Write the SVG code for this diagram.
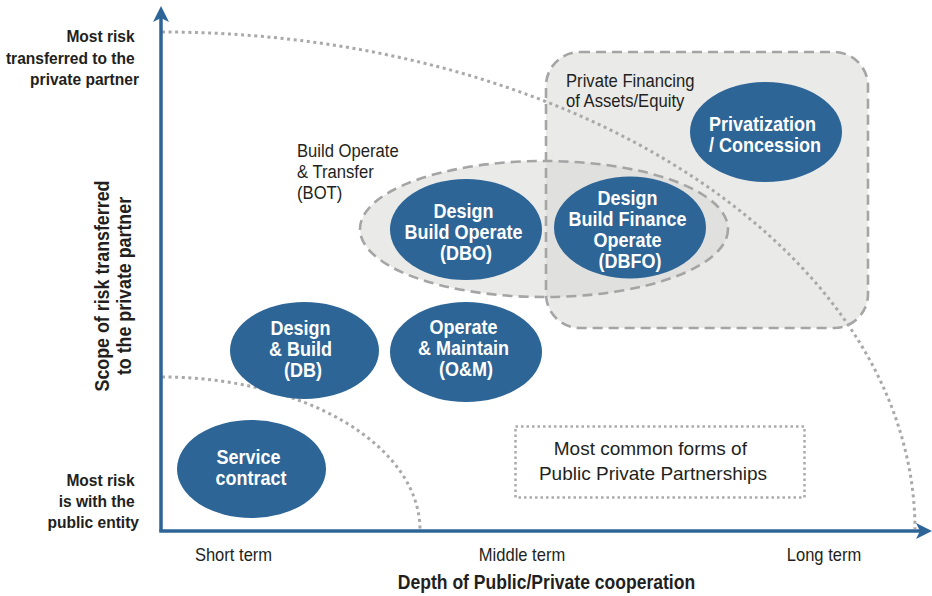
<svg xmlns="http://www.w3.org/2000/svg" width="932" height="596" viewBox="0 0 932 596">
  <style>
    .lbl { font-family: "Liberation Sans", Arial, sans-serif; fill: #231f20; }
    .b { font-weight: bold; }
    .node-shape { fill: #2c6596; }
    .node-text { font-family: "Liberation Sans", Arial, sans-serif; font-weight: bold; font-size: 20px; fill: #ffffff; text-anchor: middle; }
    .zone { fill: #d6d6d4; fill-opacity: 0.52; stroke: none; }
    .zone-edge { fill: none; stroke: #a5a5a5; stroke-width: 2.6; stroke-dasharray: 10 6; }
    .dots { fill: none; stroke: #a9a9a9; stroke-width: 3; stroke-dasharray: 3 3.6; }
    .axis { stroke: #2c6596; stroke-width: 3.5; fill: none; }
    .axis-head { fill: #2c6596; }
  </style>

  <!-- shaded zones: private financing and build-operate-transfer -->
  <g id="zones">
    <rect id="zone-private-financing" class="zone" x="546" y="52" width="322" height="276" rx="34" ry="34"/>
    <ellipse id="zone-bot" class="zone" cx="544" cy="229" rx="184" ry="68"/>
    <rect class="zone-edge" x="546" y="52" width="322" height="276" rx="34" ry="34"/>
    <ellipse class="zone-edge" cx="544" cy="229" rx="184" ry="68"/>
  </g>

  <!-- axes and risk boundary curves -->
  <g id="connectors">
    <path class="dots" d="M162,32 A753,498 0 0 1 915,529"/>
    <path class="dots" d="M162,377 A258,153 0 0 1 420,529"/>
    <line class="axis" x1="161" y1="16" x2="161" y2="531"/>
    <line class="axis" x1="159.25" y1="531" x2="922" y2="531"/>
    <polygon class="axis-head" points="161,6 169,22 161,18 153,22"/>
    <polygon class="axis-head" points="932,531 916,523 920,531 916,539"/>
  </g>

  <!-- zone captions -->
  <g id="caption-private-financing">
    <text class="lbl" font-size="18.5" transform="translate(566,0) scale(0.9,1)">
      <tspan x="0" y="87">Private Financing</tspan>
      <tspan x="0" y="107">of Assets/Equity</tspan>
    </text>
  </g>
  <g id="caption-bot">
    <text class="lbl" font-size="18.5" transform="translate(297,0) scale(0.9,1)">
      <tspan x="0" y="157">Build Operate</tspan>
      <tspan x="0" y="178">&amp; Transfer</tspan>
      <tspan x="0" y="199">(BOT)</tspan>
    </text>
  </g>

  <!-- contract model nodes -->
  <g id="node-service-contract">
    <ellipse class="node-shape" cx="251.5" cy="469" rx="74.5" ry="49"/>
    <text class="node-text" transform="translate(251,0) scale(0.9,1)">
      <tspan x="0" y="464">Service</tspan>
      <tspan x="0" y="485">contract</tspan>
    </text>
  </g>
  <g id="node-design-build">
    <ellipse class="node-shape" cx="304.5" cy="350.5" rx="74.5" ry="48.5"/>
    <text class="node-text" transform="translate(303,0) scale(0.9,1)">
      <tspan x="0" y="335">Design</tspan>
      <tspan x="0" y="356">&amp; Build</tspan>
      <tspan x="0" y="377">(DB)</tspan>
    </text>
  </g>
  <g id="node-operate-maintain">
    <ellipse class="node-shape" cx="466" cy="352" rx="76" ry="50"/>
    <text class="node-text" transform="translate(466,0) scale(0.9,1)">
      <tspan x="0" y="334">Operate</tspan>
      <tspan x="0" y="355">&amp; Maintain</tspan>
      <tspan x="0" y="376">(O&amp;M)</tspan>
    </text>
  </g>
  <g id="node-dbo">
    <ellipse class="node-shape" cx="466" cy="229.5" rx="76" ry="50.5"/>
    <text class="node-text" transform="translate(466,0) scale(0.9,1)">
      <tspan x="0" y="218">Design</tspan>
      <tspan x="0" y="239">Build Operate</tspan>
      <tspan x="0" y="260">(DBO)</tspan>
    </text>
  </g>
  <g id="node-dbfo">
    <ellipse class="node-shape" cx="630" cy="227.5" rx="76" ry="51"/>
    <text class="node-text" transform="translate(630,0) scale(0.9,1)">
      <tspan x="0" y="205">Design</tspan>
      <tspan x="0" y="226">Build Finance</tspan>
      <tspan x="0" y="247">Operate</tspan>
      <tspan x="0" y="268">(DBFO)</tspan>
    </text>
  </g>
  <g id="node-privatization">
    <ellipse class="node-shape" cx="766" cy="132" rx="76" ry="50"/>
    <text class="node-text" transform="translate(765,0) scale(0.9,1)">
      <tspan x="0" y="131">Privatization</tspan>
      <tspan x="0" y="152">/ Concession</tspan>
    </text>
  </g>

  <!-- legend box -->
  <g id="legend-common-forms">
    <rect x="515.5" y="426.5" width="289" height="71" fill="none" stroke="#ababab" stroke-width="2.5" stroke-dasharray="2.5 3"/>
    <text class="lbl" font-size="19" text-anchor="middle">
      <tspan x="653" y="455">Most common forms of</tspan>
      <tspan x="653" y="480">Public Private Partnerships</tspan>
    </text>
  </g>

  <!-- vertical axis labels -->
  <g id="y-axis-labels">
    <text class="lbl b" font-size="17.3" text-anchor="end" transform="translate(139,0) scale(0.9,1)">
      <tspan x="0" y="42">Most risk</tspan>
      <tspan x="0" y="64">transferred to the</tspan>
      <tspan x="0" y="85">private partner</tspan>
    </text>
    <text class="lbl b" font-size="17.3" text-anchor="end" transform="translate(139,0) scale(0.9,1)">
      <tspan x="0" y="486">Most risk</tspan>
      <tspan x="0" y="507.5">is with the</tspan>
      <tspan x="0" y="528.5">public entity</tspan>
    </text>
    <text class="lbl b" font-size="19.8" text-anchor="middle" transform="translate(109,286) rotate(-90) scale(0.9,1)">
      <tspan x="0" y="0">Scope of risk transferred</tspan>
    </text>
    <text class="lbl b" font-size="19.8" text-anchor="middle" transform="translate(131,286) rotate(-90) scale(0.9,1)">
      <tspan x="0" y="0">to the private partner</tspan>
    </text>
  </g>

  <!-- horizontal axis labels -->
  <g id="x-axis-labels">
    <text class="lbl" font-size="18" text-anchor="middle" transform="translate(233.5,0) scale(0.92,1)">
      <tspan x="0" y="561">Short term</tspan>
    </text>
    <text class="lbl" font-size="18" text-anchor="middle" transform="translate(522,0) scale(0.92,1)">
      <tspan x="0" y="561">Middle term</tspan>
    </text>
    <text class="lbl" font-size="18" text-anchor="middle" transform="translate(824,0) scale(0.92,1)">
      <tspan x="0" y="561">Long term</tspan>
    </text>
    <text class="lbl b" font-size="19.5" text-anchor="middle" transform="translate(546.5,0) scale(0.9,1)">
      <tspan x="0" y="589">Depth of Public/Private cooperation</tspan>
    </text>
  </g>
</svg>
